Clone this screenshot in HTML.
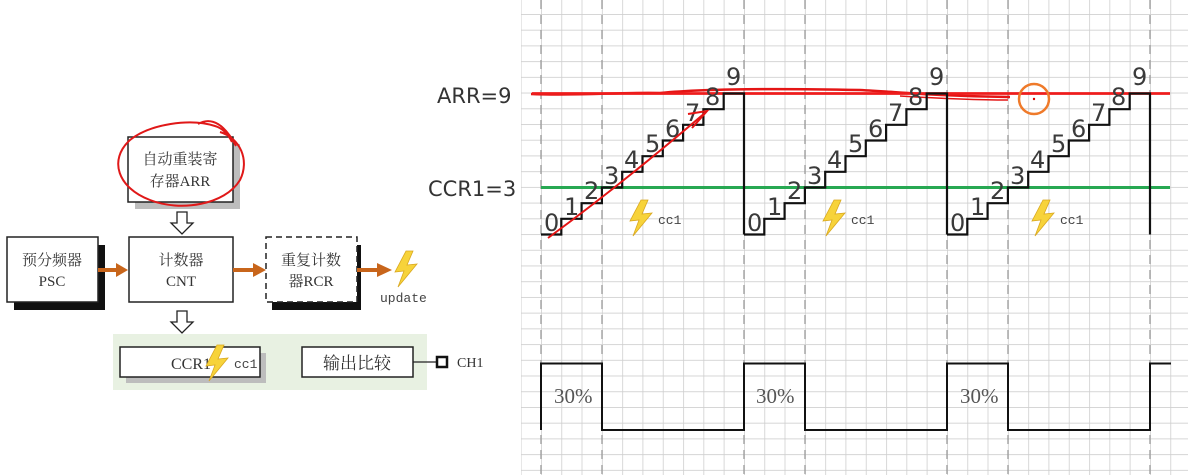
<!DOCTYPE html>
<html><head><meta charset="utf-8"><style>
html,body{margin:0;padding:0;background:#fff;width:1202px;height:475px;overflow:hidden}
svg{display:block}
.cn{font-family:"Liberation Serif","Noto Serif CJK SC",serif;fill:#333}
.d{font-family:"DejaVu Sans","Liberation Sans",sans-serif;font-size:24px;fill:#3a3a3a}
.m{font-family:"Liberation Mono","DejaVu Sans Mono",monospace;font-size:13px;fill:#444}
</style></head><body>
<svg width="1202" height="475" viewBox="0 0 1202 475" xmlns="http://www.w3.org/2000/svg">
<defs>
<pattern id="g" patternUnits="userSpaceOnUse" x="541" y="14" width="20.3" height="15.72">
<path d="M0,0 H20.3 M0,0 V15.72" stroke="#cfcfcf" stroke-width="1.6" fill="none"/>
</pattern>
<g id="bolt"><path d="M11,0 L0,21 L9,20 L3,36 L22,13 L12,14 L18,0 Z" fill="#f7d33a" stroke="#d9a820" stroke-width="0.8"/></g>
<g id="period">
<path d="M0,234.5 H20.3 V218.8 H40.6 V203.2 H60.9 V187.5 H81.2 V171.8 H101.5 V156.2 H121.8 V140.5 H142.1 V124.8 H162.4 V109.2 H182.7 V93.5 H203 V234.5" fill="none" stroke="#111" stroke-width="2.2"/>
</g>
</defs>
<rect x="521" y="0" width="667" height="475" fill="url(#g)"/>
<g stroke="#9a9a9a" stroke-width="1.3" stroke-dasharray="9,6">
<line x1="541" y1="0" x2="541" y2="475"/><line x1="602" y1="0" x2="602" y2="475"/>
<line x1="744" y1="0" x2="744" y2="475"/><line x1="805" y1="0" x2="805" y2="475"/>
<line x1="947" y1="0" x2="947" y2="475"/><line x1="1008" y1="0" x2="1008" y2="475"/>
<line x1="1150" y1="0" x2="1150" y2="475"/>
</g>
<text x="437" y="103" style="font-family:'DejaVu Sans','Liberation Sans',sans-serif;font-size:21px;fill:#333">ARR=9</text>
<text x="428" y="196" style="font-family:'DejaVu Sans','Liberation Sans',sans-serif;font-size:21px;fill:#333">CCR1=3</text>
<line x1="541" y1="187.5" x2="1170" y2="187.5" stroke="#27a852" stroke-width="3"/>
<path d="M531,94 C580,96 620,92 660,93 C700,89 760,88 860,90 C900,92 930,96 1010,97" fill="none" stroke="#e41515" stroke-width="2.5"/>
<line x1="532" y1="93.5" x2="1170" y2="93.5" stroke="#ee1c1c" stroke-width="2.8"/>
<path d="M900,96 C950,99 990,100 1008,100" fill="none" stroke="#e41515" stroke-width="1.5"/>
<use href="#period" x="541"/><use href="#period" x="744"/><use href="#period" x="947"/>
<g class="d">
<text x="544" y="231">0</text><text x="564" y="215">1</text><text x="584" y="199">2</text><text x="604" y="184">3</text><text x="624" y="168">4</text><text x="645" y="152">5</text><text x="665" y="137">6</text><text x="685" y="121">7</text><text x="705" y="105">8</text><text x="726" y="85">9</text>
<text x="747" y="231">0</text><text x="767" y="215">1</text><text x="787" y="199">2</text><text x="807" y="184">3</text><text x="827" y="168">4</text><text x="848" y="152">5</text><text x="868" y="137">6</text><text x="888" y="121">7</text><text x="908" y="105">8</text><text x="929" y="85">9</text>
<text x="950" y="231">0</text><text x="970" y="215">1</text><text x="990" y="199">2</text><text x="1010" y="184">3</text><text x="1030" y="168">4</text><text x="1051" y="152">5</text><text x="1071" y="137">6</text><text x="1091" y="121">7</text><text x="1111" y="105">8</text><text x="1132" y="85">9</text>
</g>
<use href="#bolt" x="630" y="200"/><use href="#bolt" x="823" y="200"/><use href="#bolt" x="1032" y="200"/>
<text class="m" x="658" y="224">cc1</text><text class="m" x="851" y="224">cc1</text><text class="m" x="1060" y="224">cc1</text>
<path d="M548,238 C600,200 650,160 706,112" fill="none" stroke="#e41515" stroke-width="2"/>
<path d="M688,114 L707,111 L692,128" fill="none" stroke="#e41515" stroke-width="2"/>
<circle cx="1034" cy="99" r="15" fill="none" stroke="#ef7a2a" stroke-width="2.5"/>
<circle cx="1034" cy="99" r="1.2" fill="#d00"/>
<path d="M541,430 V363.5 H602 V430 H744 V363.5 H805 V430 H947 V363.5 H1008 V430 H1150 V363.5 H1171" fill="none" stroke="#111" stroke-width="2"/>
<g style="font-family:'Liberation Serif',serif;font-size:21px;fill:#555">
<text x="554" y="403">30%</text><text x="756" y="403">30%</text><text x="960" y="403">30%</text></g>

<rect x="135" y="144" width="105" height="65" fill="#bdbdbd"/>
<rect x="128" y="137" width="105" height="65" fill="#fff" stroke="#222" stroke-width="1.5"/>
<text class="cn" x="180" y="164" font-size="15" text-anchor="middle">自动重装寄</text>
<text class="cn" x="180" y="186" font-size="15" text-anchor="middle">存器ARR</text>
<path d="M220,132 C240,138 250,160 240,180 C225,205 180,212 150,200 C118,188 108,160 130,140 C150,124 190,118 215,126 C222,128 228,134 232,142" fill="none" stroke="#e01818" stroke-width="2"/>
<path d="M198,124 C212,116 225,125 236,146" fill="none" stroke="#e01818" stroke-width="2"/>

<rect x="14" y="245" width="91" height="65" fill="#111"/>
<rect x="7" y="237" width="91" height="65" fill="#fff" stroke="#222" stroke-width="1.5"/>
<text class="cn" x="52" y="265" font-size="15" text-anchor="middle">预分频器</text>
<text class="cn" x="52" y="286" font-size="15" text-anchor="middle">PSC</text>

<rect x="129" y="237" width="104" height="65" fill="#fff" stroke="#222" stroke-width="1.5"/>
<text class="cn" x="181" y="265" font-size="15" text-anchor="middle">计数器</text>
<text class="cn" x="181" y="286" font-size="15" text-anchor="middle">CNT</text>

<rect x="272" y="245" width="89" height="65" fill="#111"/>
<rect x="266" y="237" width="91" height="65" fill="#fff" stroke="#222" stroke-width="1.5" stroke-dasharray="6,4"/>
<text class="cn" x="311" y="265" font-size="15" text-anchor="middle">重复计数</text>
<text class="cn" x="311" y="286" font-size="15" text-anchor="middle">器RCR</text>

<path d="M177,212 H187 V223 H193 L182,234 L171,223 H177 Z" fill="#fff" stroke="#222" stroke-width="1.3"/>
<path d="M177,311 H187 V322 H193 L182,333 L171,322 H177 Z" fill="#fff" stroke="#222" stroke-width="1.3"/>
<g fill="#c8651b">
<rect x="98" y="268" width="20" height="4"/><path d="M116,263 L128,270 L116,277 Z"/>
<rect x="233" y="268" width="22" height="4"/><path d="M253,263 L266,270 L253,277 Z"/>
<rect x="357" y="268" width="22" height="4"/><path d="M377,263 L392,270 L377,277 Z"/>
<rect x="266" y="360" width="24" height="4"/><path d="M288,355 L302,362 L288,369 Z"/>
</g>
<use href="#bolt" x="395" y="251"/>
<text class="m" x="380" y="302">update</text>

<rect x="113" y="334" width="314" height="56" fill="#e8f1e2"/>
<rect x="126" y="353" width="140" height="30" fill="#bdbdbd"/>
<rect x="120" y="347" width="140" height="30" fill="#fff" stroke="#222" stroke-width="1.5"/>
<text class="cn" x="171" y="369" font-size="16">CCR1</text>
<use href="#bolt" x="206" y="345"/>
<text class="m" x="234" y="368">cc1</text>
<rect x="302" y="347" width="111" height="30" fill="#fff" stroke="#222" stroke-width="1.5"/>
<text class="cn" x="357" y="369" font-size="17" text-anchor="middle">输出比较</text>
<line x1="413" y1="362" x2="437" y2="362" stroke="#222" stroke-width="1.3"/>
<rect x="437" y="357" width="10" height="10" fill="#fff" stroke="#111" stroke-width="2.5"/>
<text class="cn" x="457" y="367" font-size="14">CH1</text>
</svg>
</body></html>
